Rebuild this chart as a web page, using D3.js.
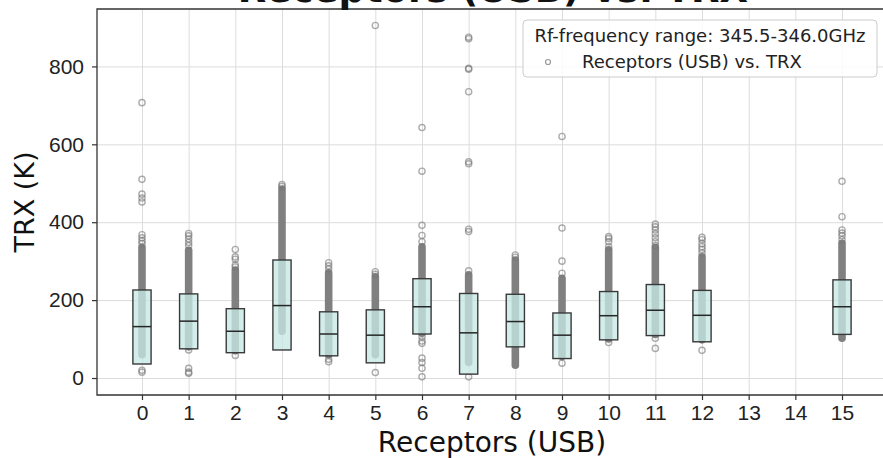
<!DOCTYPE html>
<html>
<head>
<meta charset="utf-8">
<script src="https://cdn.jsdelivr.net/npm/d3@7"></script>
<style>
    body { margin: 0; background: #fff; }
    svg { display: block; font-family: "DejaVu Sans", sans-serif; }
    .grid line { stroke: #dcdcdc; stroke-width: 1; }
    .grid .domain { display: none; }
    .axis .domain { display: none; }
    .axis line { stroke: #333; stroke-width: 1.2; }
    .axis text { fill: #222; font-size: 21px; }
</style>
</head>
<body>
<div id="chart"></div>
<script>
// Receptor numbers that have data (13 and 14 are empty)
const receptors = [0, 1, 2, 3, 4, 5, 6, 7, 8, 9, 10, 11, 12, 15];

// Box statistics (K)
const q1Values     = [36, 75, 65, 72, 57, 39, 113, 10, 80, 50, 98, 109, 93, 112];
const medianValues = [132, 146, 120, 186, 113, 110, 183, 116, 145, 110, 160, 174, 161, 183];
const q3Values     = [226, 216, 178, 303, 170, 175, 255, 217, 215, 167, 222, 240, 225, 252];

// Where the scatter points pile up into a solid column
const denseLow  = [60, 80, 70, 120, 60, 60, 115, 40, 33, 55, 100, 112, 98, 102];
const denseHigh = [335, 328, 277, 485, 270, 260, 337, 265, 303, 256, 329, 335, 311, 346];

// Separate points outside the dense column
const outlierValues = [
    [707, 510, 472, 462, 452, 368, 360, 352, 345, 20, 15],
    [371, 365, 357, 348, 340, 72, 25, 15, 12],
    [330, 311, 305, 290, 285, 58],
    [497, 492],
    [296, 288, 280, 48, 42],
    [905, 273, 266, 14],
    [643, 531, 392, 366, 350, 106, 95, 89, 51, 40, 25, 3],
    [875, 871, 795, 793, 735, 555, 550, 382, 376, 275, 3],
    [316, 310],
    [620, 385, 300, 269, 38],
    [363, 358, 350, 337, 91],
    [395, 388, 380, 370, 360, 350, 340, 102, 76],
    [361, 355, 345, 337, 330, 321, 71],
    [505, 414, 380, 372, 365, 355]
];

const xTickValues = d3.range(0, 16);
const yTickValues = [0, 200, 400, 600, 800];

const width = 883;
const height = 458;
const plot = { left: 97, right: 887, top: 9, bottom: 395 };

const svg = d3.select("#chart")
    .append("svg")
    .attr("width", width)
    .attr("height", height);

const x = d3.scaleLinear()
    .domain([-0.964, 15.964])
    .range([plot.left, plot.right]);

const y = d3.scaleLinear()
    .domain([-43.6, 947.4])
    .range([plot.bottom, plot.top]);

    // Gridlines
svg.append("g")
    .attr("class", "grid")
    .attr("transform", `translate(0, ${plot.bottom})`)
    .call(d3.axisBottom(x).tickValues(xTickValues).tickSize(-(plot.bottom - plot.top)).tickFormat(""));

svg.append("g")
    .attr("class", "grid")
    .attr("transform", `translate(${plot.left}, 0)`)
    .call(d3.axisLeft(y).tickValues(yTickValues).tickSize(-(plot.right - plot.left)).tickFormat(""));

const rows = receptors.map((r, i) => ({
    receptor: r,
    q1: q1Values[i],
    median: medianValues[i],
    q3: q3Values[i],
    lo: denseLow[i],
    hi: denseHigh[i],
    outliers: outlierValues[i]
}));

    // Dense scatter columns
svg.append("g")
    .selectAll("line")
    .data(rows)
    .join("line")
    .attr("x1", d => x(d.receptor))
    .attr("x2", d => x(d.receptor))
    .attr("y1", d => y(d.lo))
    .attr("y2", d => y(d.hi))
    .attr("stroke", "#808080")
    .attr("stroke-width", 7.6)
    .attr("stroke-linecap", "round");

    // Separate scatter points
svg.append("g")
    .selectAll("circle")
    .data(rows.flatMap(d => d.outliers.map(v => ({ receptor: d.receptor, value: v }))))
    .join("circle")
    .attr("cx", d => x(d.receptor))
    .attr("cy", d => y(d.value))
    .attr("r", 3.1)
    .attr("fill", "none")
    .attr("stroke", "#777")
    .attr("stroke-opacity", 0.6)
    .attr("stroke-width", 1.4);

    // Boxes
const boxWidth = x(0.39) - x(0);
const boxes = svg.append("g")
    .selectAll("g")
    .data(rows)
    .join("g");

boxes.append("rect")
    .attr("x", d => x(d.receptor) - boxWidth / 2)
    .attr("y", d => y(d.q3))
    .attr("width", boxWidth)
    .attr("height", d => y(d.q1) - y(d.q3))
    .attr("fill", "rgb(199,233,228)")
    .attr("fill-opacity", 0.78)
    .attr("stroke", "#3a3a3a")
    .attr("stroke-width", 1.4);

boxes.append("line")
    .attr("x1", d => x(d.receptor) - boxWidth / 2)
    .attr("x2", d => x(d.receptor) + boxWidth / 2)
    .attr("y1", d => y(d.median))
    .attr("y2", d => y(d.median))
    .attr("stroke", "#262626")
    .attr("stroke-width", 1.5);

    // Frame
svg.append("path")
    .attr("d", `M${plot.right},${plot.top}H${plot.left}V${plot.bottom}H${plot.right}`)
    .attr("fill", "none")
    .attr("stroke", "#333")
    .attr("stroke-width", 1.3);

    // Axes
svg.append("g")
    .attr("class", "axis")
    .attr("transform", `translate(0, ${plot.bottom})`)
    .call(d3.axisBottom(x).tickValues(xTickValues).tickSize(5).tickPadding(5).tickFormat(d3.format("d")));

svg.append("g")
    .attr("class", "axis")
    .attr("transform", `translate(${plot.left}, 0)`)
    .call(d3.axisLeft(y).tickValues(yTickValues).tickSize(5).tickPadding(8).tickFormat(d3.format("d")));

    // Titles
svg.append("text")
    .attr("x", 493)
    .attr("y", 1.5)
    .attr("text-anchor", "middle")
    .attr("font-size", 37)
    .attr("font-weight", "bold")
    .attr("fill", "#111")
    .text("Receptors (USB) vs. TRX");

svg.append("text")
    .attr("x", 492)
    .attr("y", 452)
    .attr("text-anchor", "middle")
    .attr("font-size", 28)
    .attr("fill", "#111")
    .text("Receptors (USB)");

svg.append("text")
    .attr("transform", `translate(34, ${(plot.top + plot.bottom) / 2}) rotate(-90)`)
    .attr("text-anchor", "middle")
    .attr("font-size", 27)
    .attr("fill", "#111")
    .text("TRX (K)");

    // Legend
const legend = svg.append("g");
legend.append("rect")
    .attr("x", 523).attr("y", 20)
    .attr("width", 354).attr("height", 57)
    .attr("rx", 4)
    .attr("fill", "#fff").attr("fill-opacity", 0.85)
    .attr("stroke", "#ccc");
legend.append("text")
    .attr("x", 700).attr("y", 42)
    .attr("text-anchor", "middle")
    .attr("font-size", 18)
    .attr("fill", "#222")
    .text("Rf-frequency range: 345.5-346.0GHz");
legend.append("circle")
    .attr("cx", 548).attr("cy", 62)
    .attr("r", 2.5)
    .attr("fill", "none")
    .attr("stroke", "#999")
    .attr("stroke-width", 1.2);
legend.append("text")
    .attr("x", 582).attr("y", 68)
    .attr("font-size", 18)
    .attr("fill", "#222")
    .text("Receptors (USB) vs. TRX");
</script>
</body>
</html>
